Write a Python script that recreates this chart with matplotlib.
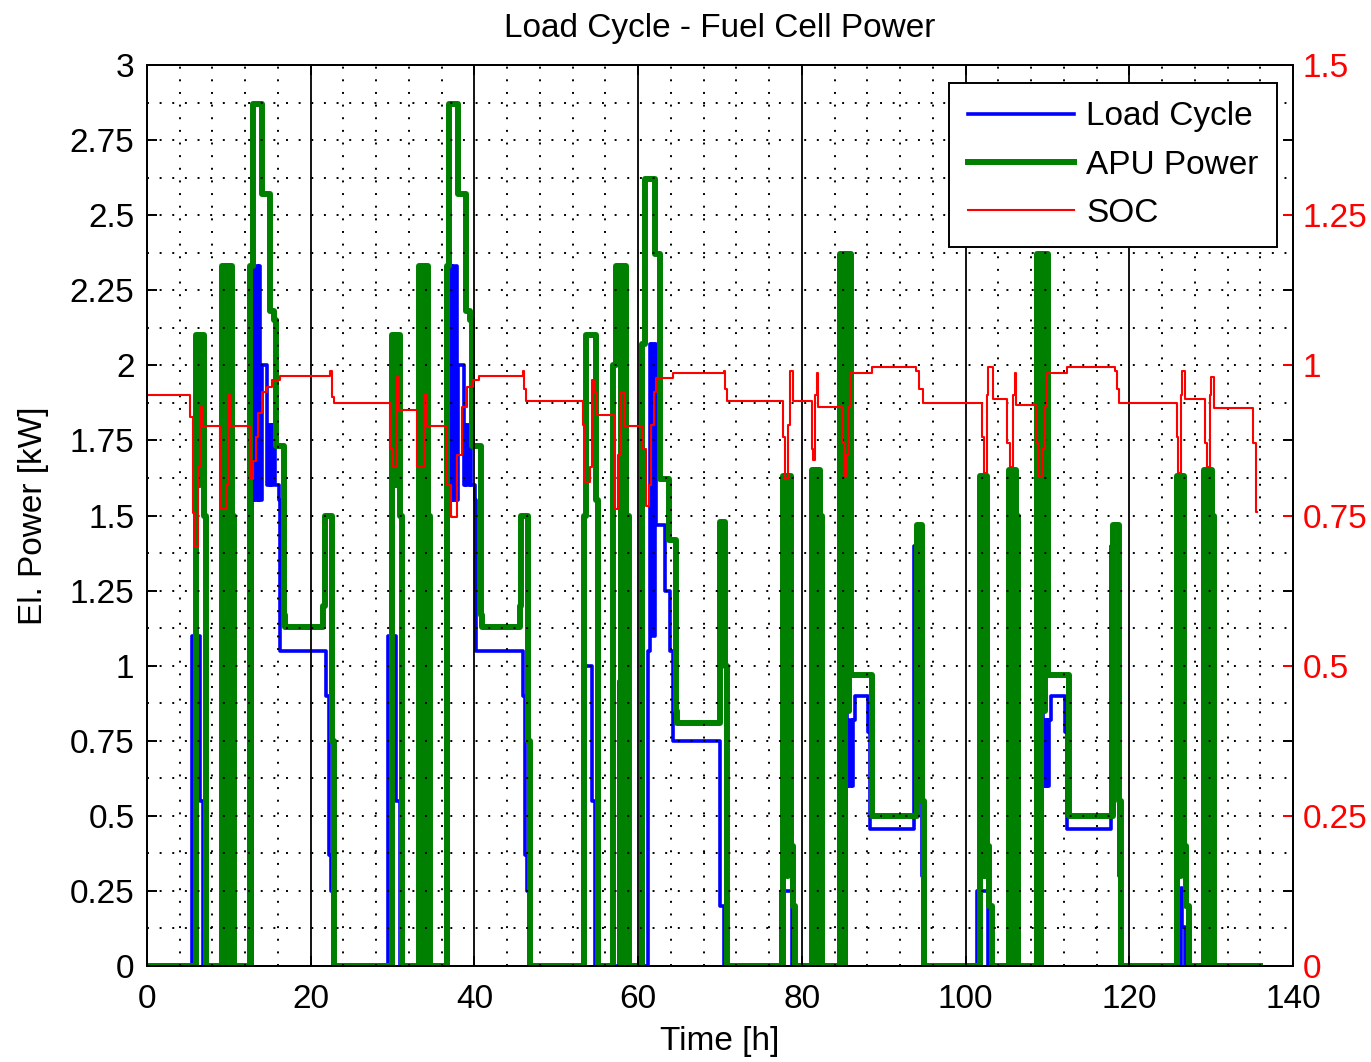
import numpy as np
import matplotlib
matplotlib.use('Agg')
import matplotlib.pyplot as plt

plt.rcParams['font.family'] = ['Liberation Sans', 'DejaVu Sans']

# day start times [h] and which load profile runs that day
day_starts = [0, 24, 48, 72, 96, 120]
day_kinds = ['A', 'A', 'B', 'C', 'C', 'D']
t_end = 136.0

# APU power per day profile (hours since day start, kW), drawn as steps
apu_t = {
    'A': [0, 5.95, 6.35, 6.5, 6.95, 7.2, 9.2, 9.95, 10.1, 10.35, 10.6,
          12.6, 12.95, 14.0, 15.0, 15.5, 15.75, 16.75, 16.9, 21.55, 21.75, 22.55, 22.8],
    'B': [0, 5.35, 5.6, 6.85, 7.1, 8.95, 9.25, 9.95, 10.1, 10.55, 10.85,
          12.5, 12.8, 14.05, 14.7, 15.8, 16.6, 16.8, 21.95, 22.55, 22.8],
    'C': [0, 5.75, 6.2, 6.3, 6.65, 6.9, 7.2, 9.25, 9.7, 9.8, 10.2, 10.4,
          12.7, 13.1, 13.25, 13.55, 13.7, 14.05, 16.6, 22.05, 22.7, 22.95],
    'D': [0, 5.8, 6.25, 6.35, 6.7, 6.95, 7.25, 9.1, 9.55, 9.65, 10.1, 10.35],
}
apu_v = {
    'A': [0, 2.1, 1.6, 2.1, 1.5, 0, 2.33, 0, 2.33, 1.5, 0,
          2.33, 2.87, 2.57, 2.18, 2.15, 1.73, 1.17, 1.13, 1.2, 1.5, 0.75, 0],
    'B': [0, 1.5, 2.1, 1.55, 0, 2.0, 2.33, 0, 2.33, 1.5, 0,
          2.07, 2.62, 2.37, 1.62, 1.42, 0.85, 0.81, 1.48, 1.0, 0],
    'C': [0, 1.63, 0.3, 1.63, 0.4, 0.2, 0, 1.65, 0, 1.65, 1.5, 0,
          2.37, 0, 2.37, 0.85, 2.37, 0.97, 0.5, 1.47, 0.55, 0],
    'D': [0, 1.63, 0.3, 1.63, 0.4, 0.2, 0, 1.65, 0, 1.65, 1.5, 0],
}

# load cycle per day profile (hours since day start, kW)
load_t = {
    'A': [0, 5.45, 6.45, 6.9, 9.55, 9.95,
          12.8, 13.1, 13.25, 13.4, 13.55, 13.7, 13.85, 14.05, 14.7, 14.85, 15.0,
          15.15, 15.3, 15.45, 15.6, 16.1, 16.2, 21.9, 22.2, 22.45, 22.7],
    'B': [0, 5.3, 6.35, 6.7, 9.7, 10.0,
          13.2, 13.45, 13.6, 13.75, 13.9, 14.05, 14.2, 15.3, 15.9, 16.3, 22.05, 22.5],
    'C': [0, 5.4, 6.75,
          13.35, 13.5, 13.65, 13.8, 13.95, 14.1, 14.25, 14.45, 16.1, 16.35,
          21.75, 22.7, 23.0],
    'D': [0, 6.3, 6.5, 6.8],
}
load_v = {
    'A': [0, 1.1, 0.55, 0, 1.15, 0,
          1.55, 2.33, 1.55, 2.33, 1.55, 2.33, 1.55, 2.0, 1.6, 1.8, 1.6,
          1.8, 1.6, 1.8, 1.6, 1.55, 1.05, 0.9, 0.37, 0.25, 0],
    'B': [0, 1.0, 0.55, 0, 0.95, 0,
          1.05, 2.07, 1.1, 2.07, 1.1, 2.07, 1.47, 1.25, 1.05, 0.75, 0.2, 0],
    'C': [0, 0.25, 0,
          1.17, 0.6, 0.82, 0.6, 0.82, 0.6, 0.82, 0.9, 0.78, 0.455,
          1.4, 0.3, 0],
    'D': [0, 0.26, 0.13, 0],
}

# battery state of charge (h, -)
soc_t = [0, 5.25, 5.6, 5.9, 6.2, 6.5, 6.7, 8.9, 9.1, 9.6, 9.9, 10.2,
         12.6, 13.0, 13.3, 13.6, 14.0, 14.6, 15.3, 16.3, 22.4, 22.6, 22.8,
         29.7, 30.0, 30.5, 30.8, 33.0, 33.8, 34.2, 36.7, 37.1, 37.9, 38.5,
         39.1, 39.8, 40.6, 45.9, 46.1, 46.3,
         53.3, 53.5, 54.1, 54.4, 54.7, 55.0, 57.0, 57.2, 57.6, 57.9, 58.3,
         60.6, 60.9, 61.3, 61.6, 61.9, 62.2, 64.3, 70.5, 70.6, 70.8,
         77.7, 77.9, 78.3, 78.5, 78.9, 81.2, 81.4, 81.6, 81.8, 82.0,
         84.9, 85.1, 85.4, 85.6, 85.9, 88.6, 94.0, 94.3, 94.8,
         102.0, 102.2, 102.6, 102.8, 103.3, 105.1, 105.4, 105.8, 106.0, 106.1,
         108.6, 108.9, 109.3, 109.7, 110.0, 112.4, 118.3, 118.5, 118.8,
         125.8, 126.0, 126.3, 126.5, 126.8, 129.2, 129.5, 129.8, 130.0, 130.3,
         135.1, 135.5, 135.6]
soc_v = [0.95, 0.914, 0.754, 0.698, 0.83, 0.93, 0.899, 0.86, 0.76, 0.80, 0.95, 0.899,
         0.81, 0.84, 0.88, 0.92, 0.955, 0.964, 0.976, 0.982, 0.99, 0.947, 0.938,
         0.86, 0.83, 0.98, 0.925, 0.83, 0.95, 0.899, 0.80, 0.748, 0.85, 0.93,
         0.964, 0.976, 0.982, 0.99, 0.96, 0.94,
         0.90, 0.806, 0.83, 0.976, 0.955, 0.918, 0.88, 0.76, 0.85, 0.955, 0.899,
         0.86, 0.765, 0.80, 0.90, 0.955, 0.979, 0.987, 0.99, 0.96, 0.94,
         0.88, 0.81, 0.90, 0.99, 0.94, 0.86, 0.842, 0.95, 0.987, 0.931,
         0.87, 0.815, 0.85, 0.93, 0.987, 0.997, 0.99, 0.96, 0.938,
         0.88, 0.82, 0.95, 0.997, 0.944, 0.87, 0.83, 0.95, 0.987, 0.934,
         0.87, 0.815, 0.86, 0.93, 0.987, 0.997, 0.99, 0.96, 0.938,
         0.88, 0.82, 0.95, 0.99, 0.944, 0.87, 0.83, 0.95, 0.98, 0.929,
         0.87, 0.756, 0.756]

left_ticks = ['0', '0.25', '0.5', '0.75', '1', '1.25', '1.5', '1.75', '2',
              '2.25', '2.5', '2.75', '3']
right_ticks = ['0', '0.25', '0.5', '0.75', '1', '1.25', '1.5']


def whole_run(prof_t, prof_v):
    t, v = [], []
    for start, kind in zip(day_starts, day_kinds):
        t += [start + x for x in prof_t[kind]]
        v += prof_v[kind]
    t.append(t_end)
    v.append(0)
    return t, v


load_time, load_pow = whole_run(load_t, load_v)
apu_time, apu_pow = whole_run(apu_t, apu_v)

fig = plt.figure(figsize=(13.71, 10.62), dpi=100)
ax = fig.add_axes([147 / 1371, 1 - 966 / 1062, 1146 / 1371, 901 / 1062])
ax2 = ax.twinx()

l1, = ax.plot(load_time, load_pow, color=(0, 0, 1), lw=2.6, drawstyle='steps-post')
l2, = ax.plot(apu_time, apu_pow, color=(0, 0.5, 0), lw=4.3, drawstyle='steps-post')
l3, = ax2.plot(soc_t, soc_v, color=(1, 0, 0), lw=1.5, drawstyle='steps-post')

ax.set_xlim(0, 140)
ax.set_ylim(0, 3)
ax2.set_ylim(0, 1.5)

ax.set_xticks(np.arange(0, 141, 20))
ax.set_xticks(np.arange(0, 141, 4), minor=True)
ax.set_yticks(np.arange(0, 3.01, 0.25))
ax.set_yticklabels(left_ticks)
ax.set_yticks(np.arange(0, 3.01, 0.125), minor=True)
ax2.set_yticks(np.arange(0, 1.51, 0.25))
ax2.set_yticklabels(right_ticks)

dots = (0, (1, 5.5))
ax.set_axisbelow(False)
ax.grid(which='minor', axis='both', color='k', linestyle=dots, lw=1.4)
ax.grid(which='major', axis='y', color='k', linestyle=dots, lw=1.4)
ax.grid(which='major', axis='x', color='k', linestyle='-', lw=1.3)

ax.tick_params(which='major', direction='in', length=7, width=1.4, top=True,
               right=True, labelsize=24)
ax.tick_params(axis='x', pad=13)
ax.tick_params(axis='y', pad=9)
ax.tick_params(which='minor', length=0)
ax2.tick_params(axis='y', direction='in', length=7, width=1.4, colors='red',
                labelsize=24, pad=7)
for sp in list(ax.spines.values()) + list(ax2.spines.values()):
    sp.set_linewidth(1.4)
    sp.set_color('k')

ax.set_title('Load Cycle - Fuel Cell Power', fontsize=24, pad=20)
ax.set_xlabel('Time [h]', fontsize=24, labelpad=8)
ax.set_ylabel('El. Power [kW]', fontsize=24, labelpad=15)

leg = ax2.legend([l1, l2, l3], ['Load Cycle', 'APU Power', 'SOC'],
                 loc='upper right', bbox_to_anchor=(0.986, 0.980),
                 borderaxespad=0, fontsize=24, handlelength=3.2,
                 handletextpad=0.36, labelspacing=0.52, borderpad=0.55,
                 fancybox=False, framealpha=1, edgecolor='k')
leg.get_frame().set_linewidth(1.4)

fig.savefig('out.png', dpi=100)
